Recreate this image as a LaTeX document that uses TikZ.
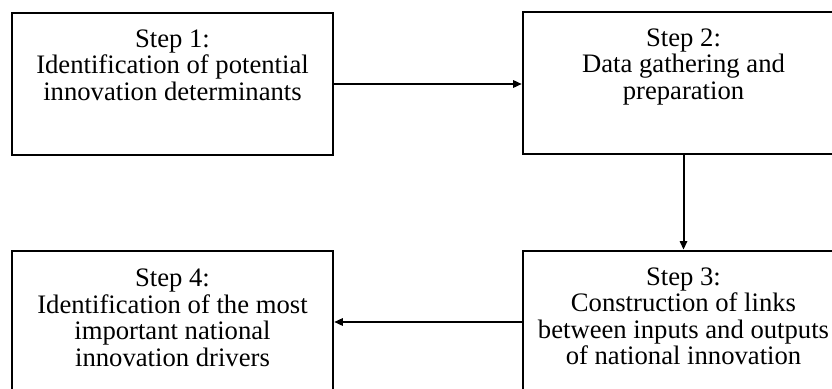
\documentclass[tikz,border=0pt]{standalone}
\usepackage{fontspec}
\setmainfont{Liberation Serif}
\usetikzlibrary{
  positioning,
  arrows.meta
  }
\tikzset{
  >={Triangle[length=6.5pt,width=5.5pt]},
  wire/.style={line width=1.5pt},
  stepbox/.style={draw, line width=1.5pt, minimum width=241pt, minimum height=107pt, inner sep=0pt},
  steptext/.style={align=center, inner sep=0pt, font=\fontsize{20}{19.8}\selectfont},
}

\begin{document}
\begin{tikzpicture}[x=0.75pt, y=-0.75pt]
  \useasboundingbox (0,0) rectangle (832,389);
  \clip (0,0) rectangle (832,389);
% =========================================================
% boxes
% =========================================================
  \node[stepbox] (s1) at (172.5,84) {};
  \node[stepbox] (s2) at (683.5,83) {};
  \node[stepbox] (s3) at (683.5,322) {};
  \node[stepbox] (s4) at (172.5,322) {};
% =========================================================
% texts
% =========================================================
  \node[steptext, below=13.5pt of s1.north] (t1) {Step 1:\\Identification of potential\\innovation determinants};
  \node[steptext, below=13.5pt of s2.north] (t2) {Step 2:\\Data gathering and\\preparation};
  \node[steptext, below=13.5pt of s3.north] (t3) {Step 3:\\Construction of links\\between inputs and outputs\\of national innovation};
  \node[steptext, below=14.5pt of s4.north] (t4) {Step 4:\\Identification of the most\\important national\\innovation drivers};
% =========================================================
% arrows
% =========================================================
  \draw[wire,->] (s1.east) -- (s1.east -| s2.west);
  \draw[wire,->] (s2) -- (s3);
  \draw[wire,->] (s3) -- (s4);
\end{tikzpicture}
\end{document}
